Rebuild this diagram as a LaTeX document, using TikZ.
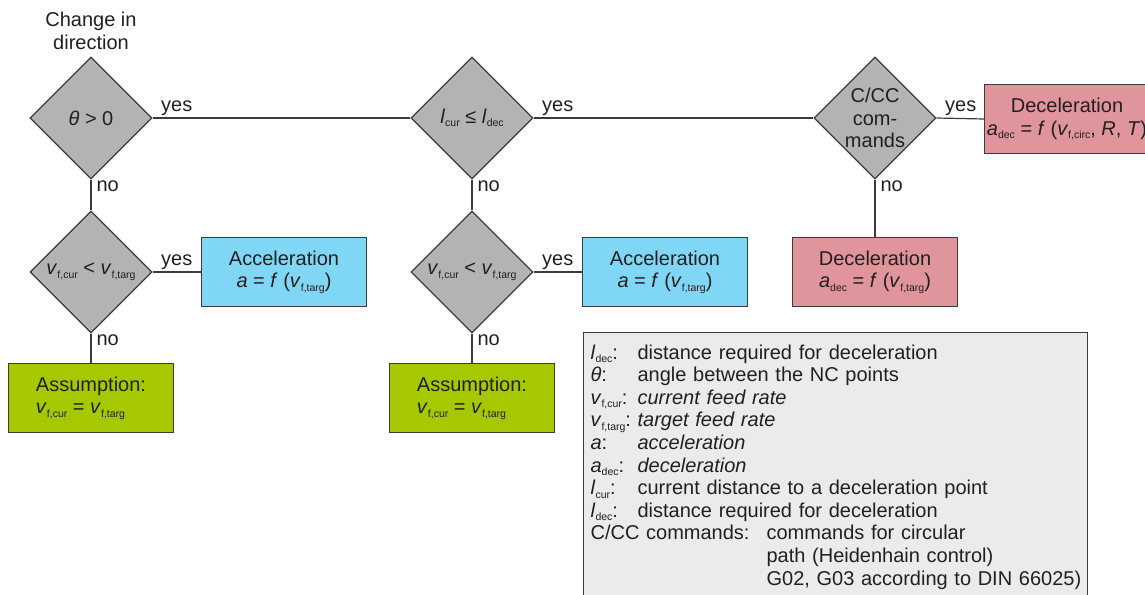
\documentclass[tikz,border=0pt]{standalone}
\usepackage{fontspec}
\setmainfont{Liberation Sans}
\usepackage{tikz}
\usetikzlibrary{shapes.geometric,positioning}
\definecolor{diagray}{RGB}{179,179,179}
\definecolor{edgegray}{RGB}{60,60,60}
\definecolor{accblue}{RGB}{128,215,245}
\definecolor{assgreen}{RGB}{166,200,0}
\definecolor{decpink}{RGB}{224,148,156}
\definecolor{keygray}{RGB}{235,235,235}
\definecolor{ink}{RGB}{35,31,32}
\newcommand{\idx}[1]{\raisebox{-3.5pt}{\fontsize{10.5}{10.5}\selectfont #1}}
\tikzstyle{decision} = [diamond,draw=edgegray,fill=diagray,line width=1.2pt,minimum width=122pt,minimum height=122pt,aspect=1,inner sep=0pt,align=center]
\tikzstyle{resbox} = [rectangle,draw=edgegray,line width=1.4pt,minimum width=165pt,minimum height=69pt,inner sep=0pt,align=center]
\tikzstyle{line} = [draw=edgegray,line width=1.2pt]
\tikzstyle{yeslab} = [pos=0,anchor=south west,inner xsep=8pt,inner ysep=2pt]
\tikzstyle{nolab} = [pos=0,anchor=north west,inner xsep=5pt,inner ysep=1pt]

\begin{document}
\begin{tikzpicture}[x=1pt,y=-1pt,text=ink,font=\fontsize{20}{22.6}\selectfont]
	\useasboundingbox (0,0) rectangle (1145,594);
	
	\node[decision] (ang) at (91,118) {\textit{θ} > 0};
	\node[above=7pt of ang,inner sep=0pt,align=center] (chg) {Change in\\direction};
	\node[decision] (dist) at (472,118) {\textit{l}\idx{cur} ≤ \textit{l}\idx{dec}};
	\node[decision] (circ) at (875,118) {C/CC\\com-\\mands};
	\node[resbox,fill=decpink] (decC) at (1067,119) {Deceleration\\\textit{a}\idx{dec} = \textit{f} (\textit{v}\idx{f,circ}, \textit{R}, \textit{T})};
	
	\node[decision] (vel1) at (91,272) {\textit{v}\idx{f,cur} < \textit{v}\idx{f,targ}};
	\node[resbox,fill=accblue] (acc1) at (284,272) {Acceleration\\\textit{a} = \textit{f} (\textit{v}\idx{f,targ})};
	\node[resbox,fill=assgreen,align=left] (ass1) at (91,398) {Assumption:\\\textit{v}\idx{f,cur} = \textit{v}\idx{f,targ}};
	
	\node[decision] (vel2) at (472,272) {\textit{v}\idx{f,cur} < \textit{v}\idx{f,targ}};
	\node[resbox,fill=accblue] (acc2) at (665,272) {Acceleration\\\textit{a} = \textit{f} (\textit{v}\idx{f,targ})};
	\node[resbox,fill=assgreen,align=left] (ass2) at (472,398) {Assumption:\\\textit{v}\idx{f,cur} = \textit{v}\idx{f,targ}};
	
	\node[resbox,fill=decpink] (decT) at (875,272) {Deceleration\\\textit{a}\idx{dec} = \textit{f} (\textit{v}\idx{f,targ})};
	
	% legend
	\node[draw=edgegray,fill=keygray,line width=1.2pt,anchor=north west,align=left,text width=490pt,inner xsep=7pt,inner ysep=12pt] (key) at (583,332) {%
		\makebox[47pt][l]{\textit{l}\idx{dec}:}distance required for deceleration\\
		\makebox[47pt][l]{\textit{θ}:}angle between the NC points\\
		\makebox[47pt][l]{\textit{v}\idx{f,cur}:}\textit{current feed rate}\\
		\makebox[47pt][l]{\textit{v}\idx{f,targ}:}\textit{target feed rate}\\
		\makebox[47pt][l]{\textit{a}:}\textit{acceleration}\\
		\makebox[47pt][l]{\textit{a}\idx{dec}:}\textit{deceleration}\\
		\makebox[47pt][l]{\textit{l}\idx{cur}:}current distance to a deceleration point\\
		\makebox[47pt][l]{\textit{l}\idx{dec}:}distance required for deceleration\\
		\makebox[176pt][l]{C/CC commands:}commands for circular\\
		\hspace*{176pt}\mbox{path (Heidenhain control)}\\
		\hspace*{176pt}\mbox{G02, G03 according to DIN 66025)}\rule[-30pt]{0pt}{1pt}};
	
	\draw[line] (ang.east) -- node[yeslab] {yes} (dist.west);
	\draw[line] (dist.east) -- node[yeslab] {yes} (circ.west);
	\draw[line] (circ.east) -- node[yeslab] {yes} (decC.west);
	\draw[line] (ang.south) -- node[nolab] {no} (vel1.north);
	\draw[line] (dist.south) -- node[nolab] {no} (vel2.north);
	\draw[line] (circ.south) -- node[nolab] {no} (decT.north);
	\draw[line] (vel1.east) -- node[yeslab] {yes} (acc1.west);
	\draw[line] (vel2.east) -- node[yeslab] {yes} (acc2.west);
	\draw[line] (vel1.south) -- node[nolab] {no} (ass1.north);
	\draw[line] (vel2.south) -- node[nolab] {no} (ass2.north);
\end{tikzpicture}
\end{document}
